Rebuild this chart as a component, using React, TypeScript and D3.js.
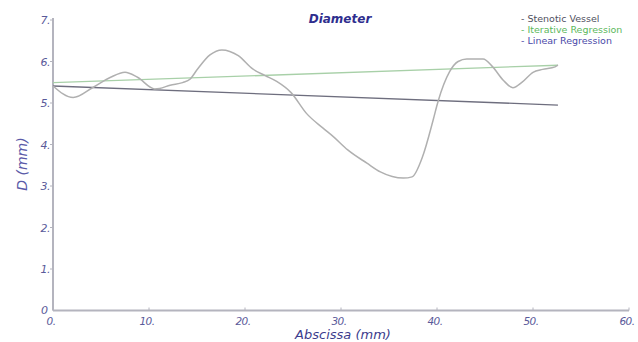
import React from "react";
import * as d3 from "d3";

const vesselX = [0, 2.1, 4.2, 6.0, 7.5, 8.8, 10.6, 11.1, 12.2, 13.5, 14.3, 15.0, 16.35, 17.6, 19.3, 20.8, 22.1, 23.3, 24.8, 26.4, 28.1, 29.2, 30.7, 32.7, 34.1, 36.5, 37.4, 38.5, 39.6, 40.1, 41.3, 42.2, 43.1, 44.8, 45.8, 46.9, 47.9, 48.9, 50.0, 51.0, 52.3, 52.6];
const vesselD = [5.41, 5.13, 5.38, 5.62, 5.74, 5.62, 5.34, 5.35, 5.43, 5.49, 5.58, 5.8, 6.16, 6.28, 6.14, 5.82, 5.66, 5.52, 5.25, 4.75, 4.40, 4.19, 3.87, 3.55, 3.34, 3.19, 3.22, 3.71, 4.59, 5.03, 5.75, 6.0, 6.06, 6.06, 5.87, 5.55, 5.37, 5.51, 5.74, 5.81, 5.87, 5.91];
const iterativeX = [0, 52.6];
const iterativeD = [5.49, 5.91];
const linearX = [0, 52.6];
const linearD = [5.41, 4.95];
const xTicks = [0, 10, 20, 30, 40, 50, 60];
const yTicks = [1, 2, 3, 4, 5, 6, 7];
const legendLabels = ["- Stenotic Vessel", "- Iterative Regression", "- Linear Regression"];

const W = 638, H = 342;
const x = d3.scaleLinear().domain([0, 60]).range([53, 629]);
const y = d3.scaleLinear().domain([0, 7]).range([310.5, 20]);

const FONT = "'DejaVu Sans', sans-serif";
const labelColor = "#3c3c8c";

export default function App() {
  const line = d3.line<[number, number]>().x(d => x(d[0])).y(d => y(d[1])).curve(d3.curveMonotoneX);
  const straight = d3.line<[number, number]>().x(d => x(d[0])).y(d => y(d[1]));
  const vessel = vesselX.map((v, i) => [v, vesselD[i]] as [number, number]);
  const iter = iterativeX.map((v, i) => [v, iterativeD[i]] as [number, number]);
  const lin = linearX.map((v, i) => [v, linearD[i]] as [number, number]);
  const legendColors = ["#505060", "#5cb85c", "#4a4aa8"];
  return (
    <svg width={W} height={H} style={{ position: "absolute", left: 0, top: 0, background: "#fff" }}>
      <line x1={x(0)} x2={x(0)} y1={y(7) - 2} y2={y(0)} stroke="#b4b4be" strokeWidth={2} />
      <line x1={x(0)} x2={x(60)} y1={y(0)} y2={y(0)} stroke="#b4b4be" strokeWidth={2} />
      {yTicks.map(t => (
        <g key={"y" + t}>
          <line x1={x(0) - 3} x2={x(0)} y1={y(t)} y2={y(t)} stroke="#b4b4be" strokeWidth={1} />
          <text x={x(0) - 3} y={y(t) + 4} textAnchor="end" fontFamily={FONT} fontStyle="italic" fontSize={11} fill="#5a5a9a" letterSpacing={-0.5}>{t + "."}</text>
        </g>
      ))}
      <text x={x(0) - 5} y={y(0) + 3} textAnchor="end" fontFamily={FONT} fontStyle="italic" fontSize={11} fill="#5a5a9a">0</text>
      {xTicks.map(t => (
        <g key={"x" + t}>
          <line x1={x(t)} x2={x(t)} y1={y(0) - 3} y2={y(0)} stroke="#b4b4be" strokeWidth={1} />
          <text x={x(t) - 2} y={y(0) + 14} textAnchor="middle" fontFamily={FONT} fontStyle="italic" fontSize={10.5} fill="#5a5a9a" letterSpacing={-0.5}>{t + "."}</text>
        </g>
      ))}
      <path d={straight(iter) || ""} fill="none" stroke="#a8d0a8" strokeWidth={1.3} />
      <path d={straight(lin) || ""} fill="none" stroke="#6e6e7e" strokeWidth={1.3} />
      <path d={line(vessel) || ""} fill="none" stroke="#b0b0b0" strokeWidth={1.5} />
      <text x={340} y={23} textAnchor="middle" fontFamily={FONT} fontStyle="italic" fontWeight="bold" fontSize={12} fill="#2e2e8e">Diameter</text>
      {legendLabels.map((l, i) => (
        <text key={l} x={521} y={22 + i * 11} fontFamily={FONT} fontSize={9.5} fill={legendColors[i]}>{l}</text>
      ))}
      <text transform={`translate(27,${164}) rotate(-90)`} textAnchor="middle" fontFamily={FONT} fontStyle="italic" fontSize={14} fill="#5a5aa8">D (mm)</text>
      <text x={343} y={339} textAnchor="middle" fontFamily={FONT} fontStyle="italic" fontSize={13} fill={labelColor}>Abscissa (mm)</text>
    </svg>
  );
}
